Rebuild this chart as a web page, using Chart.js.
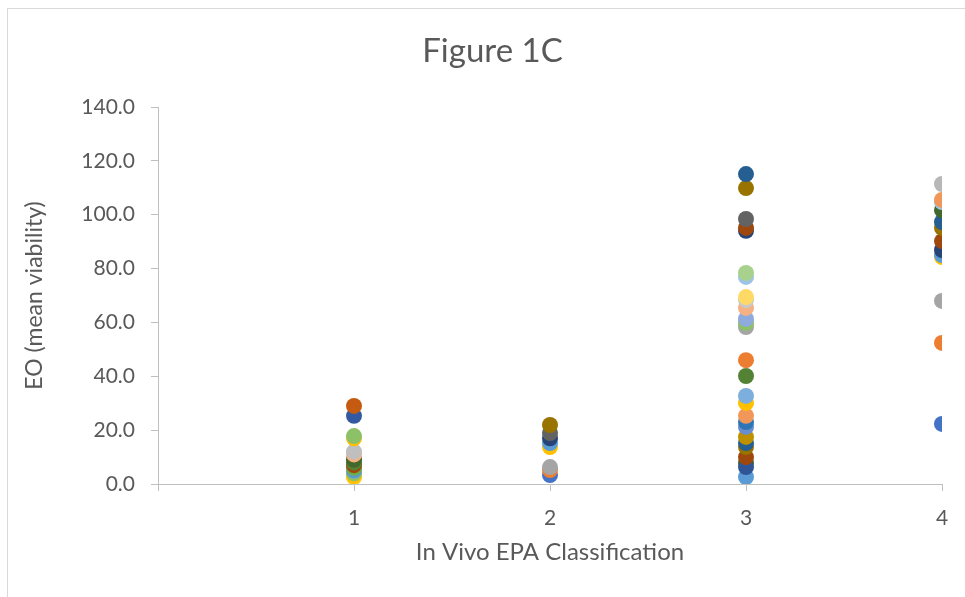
<!DOCTYPE html>
<html>
<head>
<meta charset="utf-8">
<title>Figure 1C</title>
<script src="https://cdn.jsdelivr.net/npm/chart.js@4/dist/chart.umd.min.js"></script>
<style>
  html, body { margin: 0; padding: 0; background: #fff; overflow: hidden; }
  canvas { display: block; }
</style>
</head>
<body>
<canvas id="fig1c" width="965" height="597"></canvas>
<script>
// values, one array per EPA class (ascending = draw order)
const epaClasses = [1, 2, 3, 4];

const class1Viability = [2.5, 3.0, 4.0, 5.0, 6.0, 7.0, 8.0, 9.0, 11.0, 12.0, 17.0, 17.8, 25.3, 29.0];
const class1Colors = ['#FFCD33', '#FFC000', '#8CC168', '#5B9BD5', '#70AD47', '#9E480E', '#548235', '#43682B',
  '#F4B183', '#BFBFBF', '#FFC000', '#8CC168', '#335AA1', '#C55A11'];

const class2Viability = [3.3, 5.2, 6.3, 13.7, 15.2, 17.0, 18.9, 21.9];
const class2Colors = ['#4472C4', '#ED7D31', '#A5A5A5', '#FFC000', '#5B9BD5', '#264478', '#636363', '#997300'];

const class3Viability = [2.6, 7.8, 6.3, 10.0, 13.7, 15.2, 17.5, 21.2, 23.0, 25.3, 30.1, 32.7, 40.1, 46.0,
  58.3, 59.8, 61.3, 65.4, 68.3, 69.4, 76.9, 78.4, 94.0, 95.1, 98.4, 109.9, 115.1];
const class3Colors = ['#5B9BD5', '#43682B', '#2F5597', '#9E480E', '#997300', '#255E91', '#BF9000', '#698ED0',
  '#2E75B6', '#F1975A', '#FFC000', '#7CAFDD', '#548235', '#ED7D31',
  '#A5A5A5', '#8CC168', '#8FAADC', '#F4B183', '#C9C9C9', '#FFD966', '#9DC3E6', '#A9D18E',
  '#264478', '#9E480E', '#636363', '#997300', '#255E91'];

const class4Viability = [22.3, 52.4, 68.0, 84.3, 85.0, 86.9, 90.2, 95.1, 97.3, 101.7, 104.7, 105.5, 111.4];
const class4Colors = ['#4472C4', '#ED7D31', '#A5A5A5', '#FFC000', '#5B9BD5', '#264478', '#9E480E', '#997300',
  '#255E91', '#43682B', '#9DC3E6', '#F1975A', '#B7B7B7'];

const yTicks = { min: 0, max: 140, step: 20 };
const xTicks = { min: 0, max: 4, step: 1 };

const allViability = [class1Viability, class2Viability, class3Viability, class4Viability];
const allColors = [class1Colors, class2Colors, class3Colors, class4Colors];

const textColor = '#595959';
const axisColor = '#BFBFBF';
const fontFamily = 'Lato, "Open Sans", sans-serif';

const frame = {
  id: 'frame',
  beforeDraw(chart) {
    const ctx = chart.ctx;
    ctx.save();
    ctx.fillStyle = '#fff';
    ctx.fillRect(0, 0, chart.width, chart.height);
    ctx.strokeStyle = '#D9D9D9';
    ctx.lineWidth = 1;
    ctx.strokeRect(7.5, 8.5, chart.width + 50, chart.height + 50);
    ctx.restore();
  }
};

new Chart(document.getElementById('fig1c').getContext('2d'), {
  type: 'scatter',
  data: {
    datasets: epaClasses.map((c, i) => ({
      label: 'Class ' + c,
      data: allViability[i].map(v => ({ x: c, y: v })),
      backgroundColor: allColors[i],
      borderWidth: 0,
      pointRadius: 8,
      pointHoverRadius: 8
    }))
  },
  options: {
    responsive: false,
    animation: false,
    devicePixelRatio: 1,
    layout: { padding: { left: 20, right: 0, top: 0, bottom: 0 } },
    scales: {
      x: {
        type: 'linear',
        min: xTicks.min, max: xTicks.max,
        afterFit(scale) { scale.height = 113; scale.paddingRight = 23; },
        border: { color: axisColor, width: 1 },
        grid: { drawOnChartArea: false, drawTicks: true, tickLength: 7, color: axisColor },
        ticks: {
          stepSize: xTicks.step, color: textColor, padding: 15,
          font: { family: fontFamily, size: 21 },
          callback: v => v === 0 ? '' : String(v)
        },
        title: {
          display: true, text: 'In Vivo EPA Classification', color: textColor,
          font: { family: fontFamily, size: 24 },
          padding: { top: 0, bottom: 30 }
        }
      },
      y: {
        min: yTicks.min, max: yTicks.max,
        afterFit(scale) { scale.width = 138; },
        border: { color: axisColor, width: 1 },
        grid: { drawOnChartArea: false, drawTicks: true, tickLength: 7, color: axisColor },
        ticks: {
          stepSize: yTicks.step, color: textColor, padding: 16,
          font: { family: fontFamily, size: 21 },
          callback: v => Number(v).toFixed(1)
        },
        title: {
          display: true, text: 'EO (mean viability)', color: textColor,
          font: { family: fontFamily, size: 23 },
          padding: { top: 1, bottom: 0 }
        }
      }
    },
    plugins: {
      legend: { display: false },
      tooltip: { enabled: false },
      title: {
        display: true, text: 'Figure 1C', color: textColor,
        font: { family: fontFamily, size: 33, weight: 'normal' },
        padding: { top: 32, bottom: 35.4 }
      }
    }
  },
  plugins: [frame]
});
</script>
</body>
</html>
